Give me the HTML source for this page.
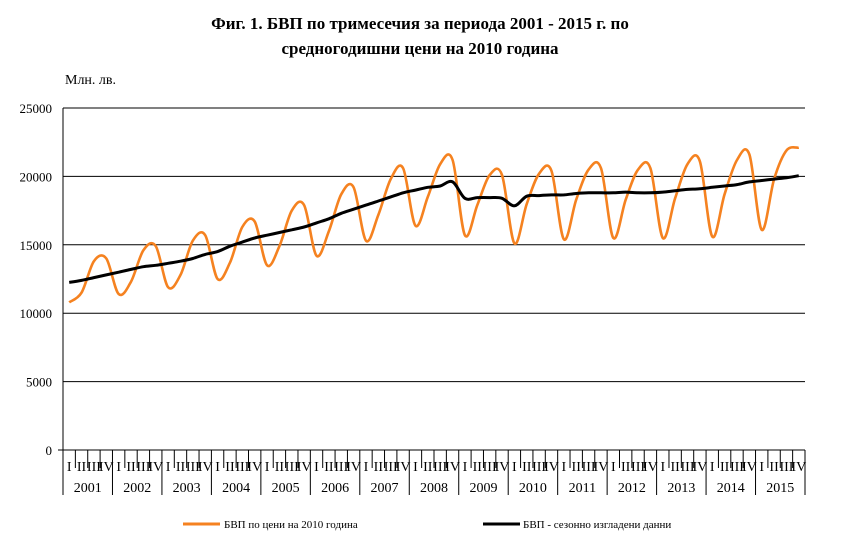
<!DOCTYPE html>
<html><head><meta charset="utf-8"><style>
body{margin:0;background:#fff}
svg{display:block;font-family:"Liberation Serif",serif}
</style></head><body>
<svg id="s" width="864" height="547" viewBox="0 0 864 547">
<text x="420" y="29" text-anchor="middle" font-size="17" font-weight="bold">Фиг. 1. БВП по тримесечия за периода 2001 - 2015 г. по</text>
<text x="420" y="54" text-anchor="middle" font-size="17" font-weight="bold">средногодишни цени на 2010 година</text>
<text x="65" y="84" font-size="14">Млн. лв.</text>
<g id="g"></g>
<line x1="183" y1="524" x2="220" y2="524" stroke="#F58220" stroke-width="3"/>
<text x="224" y="528" font-size="11">БВП по цени на 2010 година</text>
<line x1="483" y1="524" x2="520" y2="524" stroke="#000" stroke-width="3"/>
<text x="523" y="528" font-size="11">БВП - сезонно изгладени данни</text>
</svg>
<script>
var g=document.getElementById('g'),h='';
var X0=63,X1=805,Y0=450,k=342/25000;
function Y(v){return Y0-v*k}
for(var v=5000;v<=25000;v+=5000){h+='<line x1="'+X0+'" y1="'+Y(v)+'" x2="'+X1+'" y2="'+Y(v)+'" stroke="#000" stroke-width="1"/>';}
for(var v=0;v<=25000;v+=5000){h+='<text x="52" y="'+(Y(v)+5)+'" text-anchor="end" font-size="13">'+v+'</text>';}
h+='<line x1="'+X0+'" y1="108" x2="'+X0+'" y2="'+Y0+'" stroke="#000"/>';
h+='<line x1="'+(X0-5)+'" y1="'+Y0+'" x2="'+X1+'" y2="'+Y0+'" stroke="#000"/>';
var qw=(X1-X0)/60,rn=['I','II','III','IV'];
for(var i=0;i<=60;i++){var x=X0+i*qw;var big=i%4==0;
h+='<line x1="'+x+'" y1="'+Y0+'" x2="'+x+'" y2="'+(big?495:468)+'" stroke="#000"/>';
if(i<60)h+='<text x="'+(x+qw/2)+'" y="471" text-anchor="middle" font-size="14">'+rn[i%4]+'</text>';}
for(var y=0;y<15;y++)h+='<text x="'+(X0+(y*4+2)*qw)+'" y="492" text-anchor="middle" font-size="14">'+(2001+y)+'</text>';
var o=[10800,11500,13800,14000,11400,12300,14600,14900,11900,12800,15300,15700,12500,13700,16300,16700,13500,14900,17500,17900,14200,16000,18700,19200,15300,17200,19800,20600,16400,18500,20900,21200,15700,17900,20100,20100,15100,18000,20200,20400,15400,18300,20500,20600,15500,18300,20500,20600,15500,18400,20900,21100,15600,18700,21200,21600,16100,19800,21900,22100];
var s=[12250,12400,12600,12800,13000,13200,13400,13500,13650,13800,14000,14300,14500,14900,15200,15500,15700,15900,16100,16300,16600,16900,17300,17600,17900,18200,18500,18800,19000,19200,19300,19600,18400,18450,18450,18400,17850,18550,18600,18650,18650,18750,18800,18800,18800,18850,18800,18800,18850,18950,19050,19100,19200,19300,19400,19600,19700,19800,19900,20050];
function path(d){var p=d.map(function(v,i){return [X0+(i+0.5)*qw,Y(v)]});
var r='M'+p[0][0].toFixed(1)+' '+p[0][1].toFixed(1);
for(var i=0;i<p.length-1;i++){var a=p[i-1]||p[i],b=p[i],c=p[i+1],e=p[i+2]||c;
r+=' C'+(b[0]+(c[0]-a[0])/6).toFixed(1)+' '+(b[1]+(c[1]-a[1])/6).toFixed(1)+' '+(c[0]-(e[0]-b[0])/6).toFixed(1)+' '+(c[1]-(e[1]-b[1])/6).toFixed(1)+' '+c[0].toFixed(1)+' '+c[1].toFixed(1);}
return r;}
h+='<path d="'+path(o)+'" fill="none" stroke="#F58220" stroke-width="2.6"/>';
h+='<path d="'+path(s)+'" fill="none" stroke="#000" stroke-width="3"/>';
g.innerHTML=h;
</script>
</body></html>
